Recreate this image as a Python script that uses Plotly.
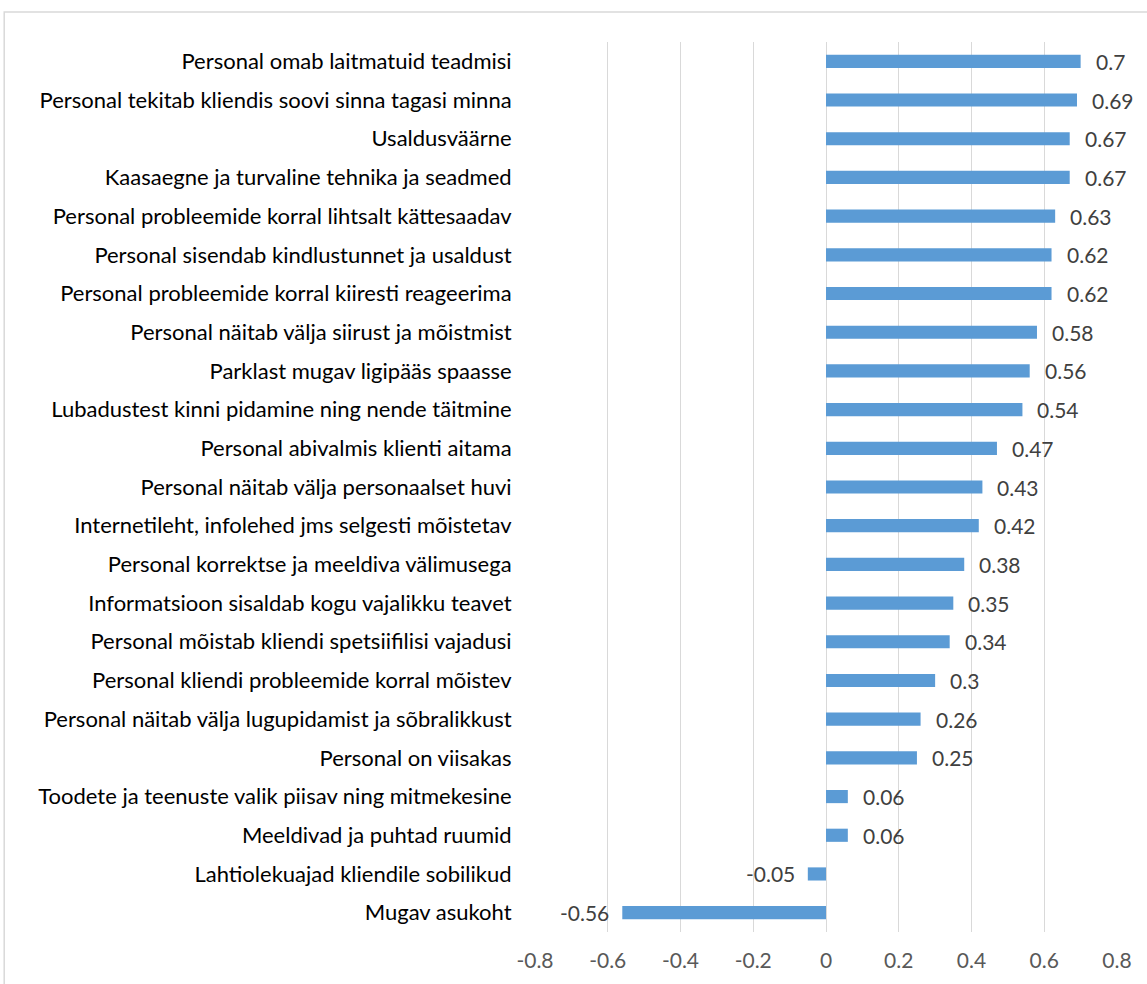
import plotly.graph_objects as go

# Attribute labels, listed from top to bottom as they appear
categories = [
    "Personal omab laitmatuid teadmisi",
    "Personal tekitab kliendis soovi sinna tagasi minna",
    "Usaldusväärne",
    "Kaasaegne ja turvaline tehnika ja seadmed",
    "Personal probleemide korral lihtsalt kättesaadav",
    "Personal sisendab kindlustunnet ja usaldust",
    "Personal probleemide korral kiiresti reageerima",
    "Personal näitab välja siirust ja mõistmist",
    "Parklast mugav ligipääs spaasse",
    "Lubadustest kinni pidamine ning nende täitmine",
    "Personal abivalmis klienti aitama",
    "Personal näitab välja personaalset huvi",
    "Internetileht, infolehed jms selgesti mõistetav",
    "Personal korrektse ja meeldiva välimusega",
    "Informatsioon sisaldab kogu vajalikku teavet",
    "Personal mõistab kliendi spetsiifilisi vajadusi",
    "Personal kliendi probleemide korral mõistev",
    "Personal näitab välja lugupidamist ja sõbralikkust",
    "Personal on viisakas",
    "Toodete ja teenuste valik piisav ning mitmekesine",
    "Meeldivad ja puhtad ruumid",
    "Lahtiolekuajad kliendile sobilikud",
    "Mugav asukoht",
]
values = [0.7, 0.69, 0.67, 0.67, 0.63, 0.62, 0.62, 0.58, 0.56, 0.54, 0.47,
          0.43, 0.42, 0.38, 0.35, 0.34, 0.3, 0.26, 0.25, 0.06, 0.06, -0.05, -0.56]

x_ticks = [-0.8, -0.6, -0.4, -0.2, 0, 0.2, 0.4, 0.6, 0.8]
x_tick_text = ["-0.8", "-0.6", "-0.4", "-0.2", "0", "0.2", "0.4", "0.6", "0.8"]

FONT = "Lato"
BAR_COLOR = "#5B9BD5"
GRID = "#D9D9D9"

fig = go.Figure(
    go.Bar(
        x=values,
        y=categories,
        orientation="h",
        marker=dict(color=BAR_COLOR, line=dict(width=0)),
        hoverinfo="x+y",
    )
)

# Value labels next to each bar end
annotations = []
for cat, v in zip(categories, values):
    annotations.append(dict(
        x=v, y=cat, xref="x", yref="y",
        text=f"{v:g}",
        showarrow=False,
        xanchor="left" if v >= 0 else "right",
        xshift=13 if v >= 0 else -11,
        font=dict(family=FONT, size=21, color="#404040"),
    ))

fig.update_layout(
    width=1147,
    height=984,
    margin=dict(l=535, r=30, t=42, b=52),
    paper_bgcolor="white",
    plot_bgcolor="white",
    bargap=0.66,
    showlegend=False,
    annotations=annotations,
    shapes=[
        # outer chart frame
        dict(type="rect", xref="paper", yref="paper",
             x0=-0.912, x1=1.06, y0=-0.07, y1=1.0337,
             line=dict(color=GRID, width=1.5), fillcolor="rgba(0,0,0,0)",
             layer="below"),
    ],
)

fig.update_xaxes(
    range=[-0.8, 0.8],
    tickvals=x_ticks,
    ticktext=x_tick_text,
    showgrid=True,
    gridcolor=GRID,
    gridwidth=1.3,
    zeroline=True,
    zerolinecolor=GRID,
    zerolinewidth=1.3,
    showline=False,
    ticks="outside",
    ticklen=10,
    tickcolor="rgba(0,0,0,0)",
    tickfont=dict(family=FONT, size=21, color="#595959"),
)

fig.update_yaxes(
    categoryorder="array",
    categoryarray=categories[::-1],
    showgrid=False,
    zeroline=False,
    showline=False,
    ticks="outside",
    ticklen=18,
    tickcolor="rgba(0,0,0,0)",
    tickfont=dict(family=FONT, size=22, color="#000000"),
)

fig.write_html("out.html")
